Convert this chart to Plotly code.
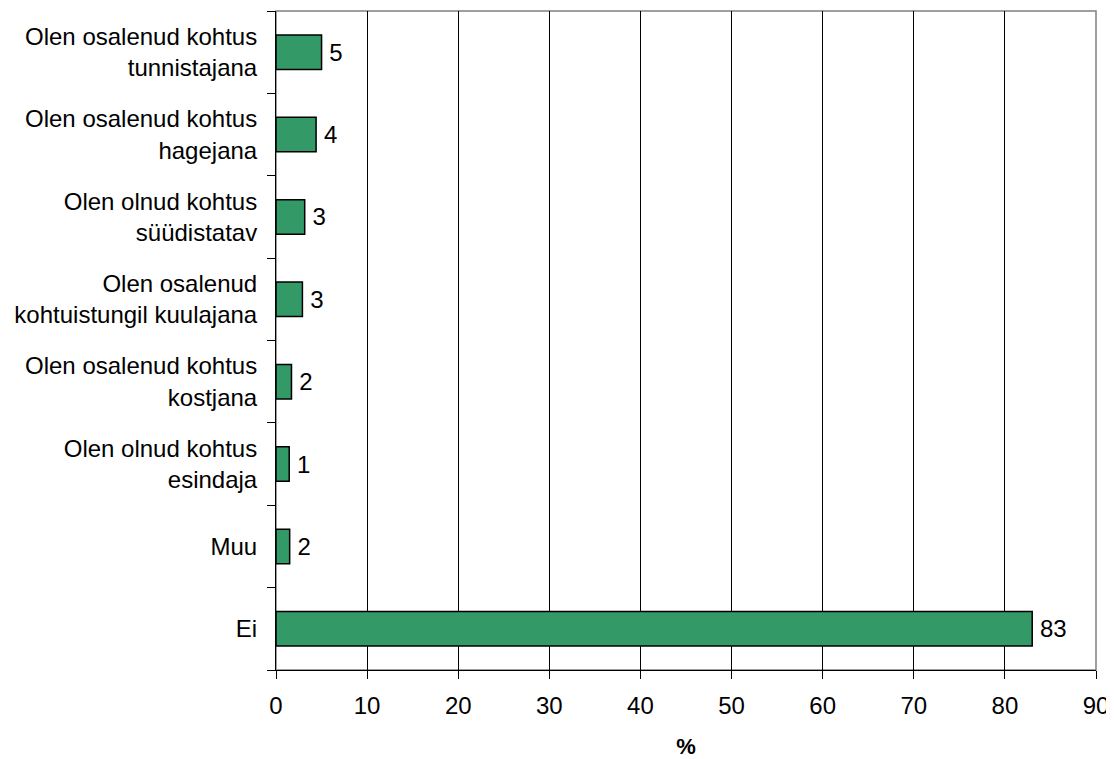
import plotly.graph_objects as go

categories = [
    "Olen osalenud kohtus<br>tunnistajana",
    "Olen osalenud kohtus<br>hagejana",
    "Olen olnud kohtus<br>süüdistatav",
    "Olen osalenud<br>kohtuistungil kuulajana",
    "Olen osalenud kohtus<br>kostjana",
    "Olen olnud kohtus<br>esindaja",
    "Muu",
    "Ei",
]
values = [5.0, 4.4, 3.15, 2.9, 1.7, 1.45, 1.5, 83.0]
value_labels = ["5", "4", "3", "3", "2", "1", "2", "83"]
x_ticks = [0, 10, 20, 30, 40, 50, 60, 70, 80, 90]

FONT = "Liberation Sans, Arial, sans-serif"

fig = go.Figure(
    go.Bar(
        y=categories,
        x=values,
        orientation="h",
        width=0.42,
        marker=dict(color="#339966", line=dict(color="black", width=1.5)),
        text=["\u2009" + t for t in value_labels],
        textposition="outside",
        textfont=dict(family=FONT, size=24, color="black"),
        cliponaxis=False,
    )
)

# page body has an 8px default margin, so the figure is drawn at (8, 8)
fig.update_layout(
    width=1106,
    height=751,
    margin=dict(l=268, r=18, t=3, b=89, autoexpand=False),
    paper_bgcolor="white",
    plot_bgcolor="white",
    font=dict(family=FONT, size=24, color="black"),
    showlegend=False,
    uniformtext=dict(minsize=24, mode="show"),
    xaxis=dict(
        range=[0, 90],
        tickvals=x_ticks,
        ticks="outside",
        ticklen=8,
        tickcolor="black",
        showgrid=True,
        gridcolor="black",
        gridwidth=1,
        showline=True,
        linecolor="black",
        linewidth=1,
        zeroline=False,
        automargin=False,
        ticklabelstandoff=6,
        title=dict(text="<b>%</b>", font=dict(size=22), standoff=20),
        tickfont=dict(size=24),
    ),
    yaxis=dict(
        categoryorder="array",
        categoryarray=categories[::-1],
        ticks="outside",
        tickson="boundaries",
        ticklen=8,
        tickcolor="black",
        showgrid=False,
        showline=True,
        linecolor="black",
        linewidth=1,
        automargin=False,
        ticklabelstandoff=13,
        tickfont=dict(size=24),
    ),
    shapes=[
        dict(
            type="rect", xref="paper", yref="paper", x0=0, x1=1, y0=0, y1=1,
            line=dict(color="#808080", width=1.5), layer="below",
        )
    ],
)

fig.write_html("out.html")
